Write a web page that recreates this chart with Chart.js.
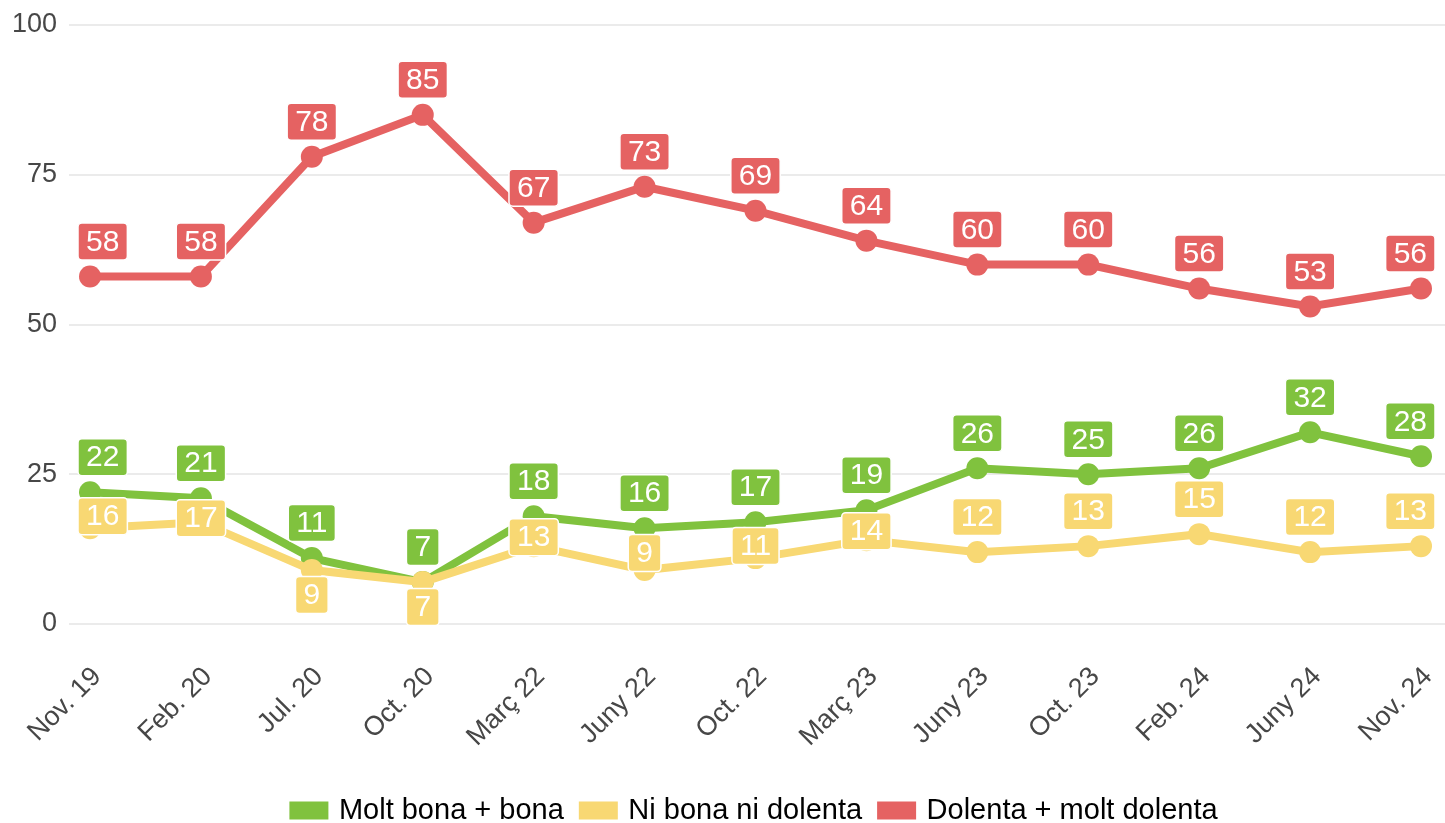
<!DOCTYPE html>
<html>
<head>
<meta charset="utf-8">
<script src="https://cdn.jsdelivr.net/npm/chart.js@4.4.1/dist/chart.umd.min.js"></script>
<style>
  html, body { margin: 0; padding: 0; background: #fff; }
  #wrap { width: 1445px; height: 823px; }
</style>
</head>
<body>
<div id="wrap"><canvas id="chart"></canvas></div>
<script>
// dades
const categories = ['Nov. 19', 'Feb. 20', 'Jul. 20', 'Oct. 20', 'Març 22', 'Juny 22', 'Oct. 22',
                    'Març 23', 'Juny 23', 'Oct. 23', 'Feb. 24', 'Juny 24', 'Nov. 24'];
const moltBona = [22, 21, 11, 7, 18, 16, 17, 19, 26, 25, 26, 32, 28];
const niBona = [16, 17, 9, 7, 13, 9, 11, 14, 12, 13, 15, 12, 13];
const dolenta = [58, 58, 78, 85, 67, 73, 69, 64, 60, 60, 56, 53, 56];
const yTicks = [0, 25, 50, 75, 100];

// desplaçament vertical de les etiquetes (px, negatiu = amunt)
const shiftDefault = -35;
const shiftNiBona = [-12, -4, 25, 25, -9, -17, -12, -9, -35, -35, -35, -35, -35];

const FONT = '"Liberation Sans", Arial, Helvetica, sans-serif';

// linies horitzontals que van de vora a vora
const gridPlugin = {
  id: 'wideGrid',
  beforeDatasetsDraw(chart) {
    const ctx = chart.ctx;
    const y = chart.scales.y;
    ctx.save();
    ctx.strokeStyle = '#ebebeb';
    ctx.lineWidth = 2;
    yTicks.forEach(v => {
      const py = Math.round(y.getPixelForValue(v));
      ctx.beginPath();
      ctx.moveTo(69, py);
      ctx.lineTo(chart.width, py);
      ctx.stroke();
    });
    ctx.restore();
  }
};

// etiquetes amb caixa de color
const labelPlugin = {
  id: 'boxLabels',
  afterDatasetsDraw(chart) {
    const ctx = chart.ctx;
    const area = chart.chartArea;
    ctx.save();
    ctx.font = '30px ' + FONT;
    ctx.textAlign = 'center';
    ctx.textBaseline = 'middle';
    chart.data.datasets.forEach((ds, i) => {
      const meta = chart.getDatasetMeta(i);
      meta.data.forEach((pt, j) => {
        const txt = String(ds.data[j]);
        const w = ctx.measureText(txt).width + 16;
        const h = 37;
        let cx = pt.x;
        const cy = pt.y + (ds.labelShift ? ds.labelShift[j] : shiftDefault);
        cx = Math.max(area.left - 12 + w / 2, Math.min(area.right + 14 - w / 2, cx));
        ctx.beginPath();
        ctx.roundRect(cx - w / 2, cy - h / 2, w, h, 4);
        ctx.fillStyle = ds.borderColor;
        ctx.fill();
        ctx.lineWidth = 1.5;
        ctx.strokeStyle = '#ffffff';
        ctx.stroke();
        ctx.fillStyle = '#ffffff';
        ctx.fillText(txt, cx, cy + 1);
      });
    });
    ctx.restore();
  }
};

function serie(label, data, color, order, shift) {
  return {
    label: label,
    data: data,
    borderColor: color,
    backgroundColor: color,
    pointBackgroundColor: color,
    pointBorderWidth: 0,
    pointRadius: 11,
    pointHoverRadius: 11,
    borderWidth: 8,
    tension: 0,
    order: order,
    labelShift: shift
  };
}

new Chart(document.getElementById('chart'), {
  type: 'line',
  data: {
    labels: categories,
    datasets: [
      serie('Molt bona + bona', moltBona, '#80c23e', 1),
      serie('Ni bona ni dolenta', niBona, '#f8d873', 0, shiftNiBona),
      serie('Dolenta + molt dolenta', dolenta, '#e56262', 2)
    ]
  },
  options: {
    responsive: true,
    maintainAspectRatio: false,
    animation: false,
    layout: { padding: { left: 12, right: 24, top: 25, bottom: 0 } },
    scales: {
      x: {
        offset: false,
        grid: { display: false, drawTicks: false },
        border: { display: false },
        afterFit: axis => {
          axis.height = 153;
          axis.paddingLeft = 0;
          axis.paddingRight = 0;
        },
        ticks: {
          maxRotation: 45,
          minRotation: 45,
          padding: 37,
          labelOffset: 7,
          color: '#474747',
          font: { family: FONT, size: 27 },
          autoSkip: false
        }
      },
      y: {
        min: 0,
        max: 100,
        afterBuildTicks: axis => { axis.ticks = yTicks.map(v => ({ value: v })); },
        afterFit: axis => {
          axis.width = 78;
          axis.paddingTop = 0;
          axis.paddingBottom = 0;
        },
        grid: { display: false, drawTicks: false },
        border: { display: false },
        ticks: {
          padding: 33,
          color: '#474747',
          font: { family: FONT, size: 27 }
        }
      }
    },
    plugins: {
      legend: {
        position: 'bottom',
        fullSize: false,
        maxHeight: 46,
        labels: {
          boxWidth: 31,
          boxHeight: 10,
          padding: 19,
          color: '#000000',
          font: { family: FONT, size: 29 },
          sort: (a, b) => a.datasetIndex - b.datasetIndex
        }
      },
      tooltip: { enabled: false }
    }
  },
  plugins: [gridPlugin, labelPlugin]
});
</script>
</body>
</html>
